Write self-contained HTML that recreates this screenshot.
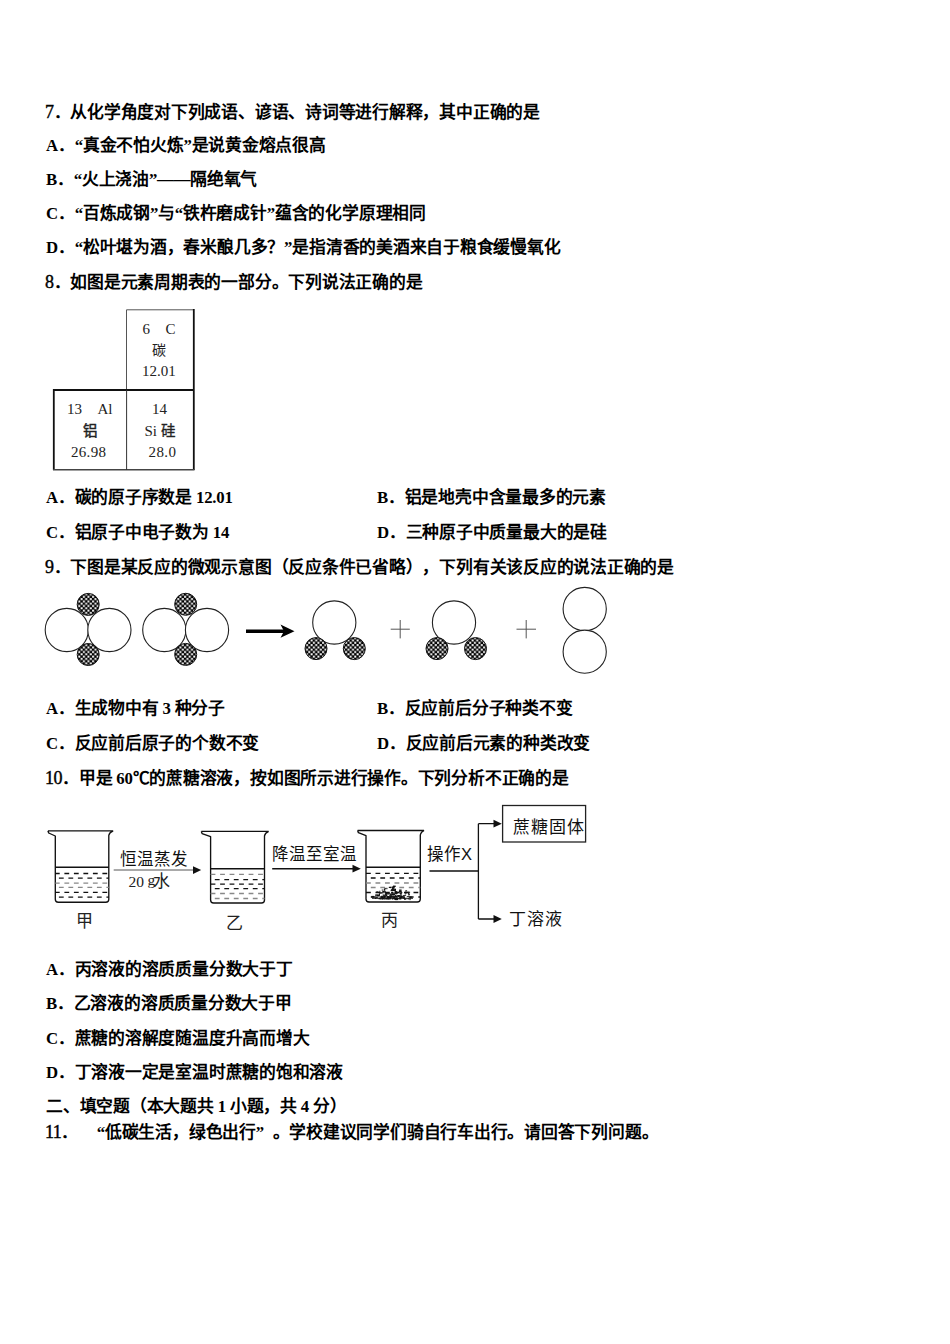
<!DOCTYPE html>
<html lang="zh-CN">
<head>
<meta charset="utf-8">
<style>
html,body{margin:0;padding:0;background:#fff;}
body{width:950px;height:1344px;position:relative;overflow:hidden;}
.l{position:absolute;white-space:nowrap;font-family:"Liberation Serif",serif;font-size:16.77px;line-height:20px;font-weight:bold;color:#000;letter-spacing:-0.23px;text-spacing-trim:space-all;}
.n{font-weight:normal;font-size:18px;margin-left:-1px;letter-spacing:-0.5px;-webkit-text-stroke:0.4px #000;}
.r{font-weight:normal;}
.q1{display:inline-block;width:16.77px;text-align:right;}
.q2{display:inline-block;width:16.77px;text-align:left;}
svg{position:absolute;left:0;top:0;}
</style>
</head>
<body>

<svg width="950" height="1344" viewBox="0 0 950 1344">
<defs>
<pattern id="ck" x="0" y="0" width="4.6" height="4.6" patternUnits="userSpaceOnUse">
<rect x="0" y="0" width="4.6" height="4.6" fill="#000"/>
<rect x="2.4" y="0.1" width="2.0" height="2.0" fill="#fff"/>
<rect x="0.1" y="2.4" width="2.0" height="2.0" fill="#fff"/>
</pattern>
</defs>
<!-- periodic table -->
<g fill="none">
<path d="M126.5 389.5 V309.8 H193.8" stroke="#555" stroke-width="1"/>
<path d="M193.8 309 V470" stroke="#111" stroke-width="1.8"/>
<path d="M53.8 470 V390 H193.8" stroke="#111" stroke-width="1.8"/>
<path d="M53 469.8 H194.5" stroke="#444" stroke-width="1.4"/>
<path d="M126.6 390 V470" stroke="#333" stroke-width="1"/>
</g>
<g font-family="Liberation Serif, serif" font-size="15" fill="#222">
<text x="142.5" y="333.5">6</text><text x="165.5" y="333.5">C</text>
<text x="151.5" y="354.5" font-size="14">碳</text>
<text x="142" y="375.5">12.01</text>
<text x="67" y="413.8">13</text><text x="97.5" y="413.8">Al</text>
<text x="152" y="413.8">14</text>
<text x="82.5" y="436" font-size="14.5" stroke="#222" stroke-width="0.45">铝</text>
<text x="144.5" y="435.5">Si</text><text x="160.5" y="436" font-size="14.5" stroke="#222" stroke-width="0.3">硅</text>
<text x="71" y="456.8" letter-spacing="0.3">26.98</text>
<text x="148.5" y="456.8" letter-spacing="0.4">28.0</text>
</g>
<!-- reaction -->
<g fill="#fff" stroke="#222" stroke-width="1.1">
<circle cx="66.8" cy="630" r="21.6"/><circle cx="109.4" cy="630" r="21.6"/>
<circle cx="164.3" cy="630" r="21.6"/><circle cx="207" cy="630" r="21.6"/>
<circle cx="334.3" cy="622.5" r="21.6"/>
<circle cx="454" cy="622.5" r="21.6"/>
<circle cx="584.7" cy="609" r="21.6"/><circle cx="584.7" cy="651.7" r="21.6"/>
</g>
<g fill="url(#ck)" stroke="#111" stroke-width="1">
<circle cx="88.2" cy="604.4" r="11"/><circle cx="88.2" cy="654.5" r="11"/>
<circle cx="185.7" cy="604.3" r="11"/><circle cx="185.7" cy="654.4" r="11"/>
<circle cx="316" cy="648.6" r="11"/><circle cx="354.3" cy="648.6" r="11"/>
<circle cx="437" cy="648.6" r="11"/><circle cx="475.5" cy="648.6" r="11"/>
</g>
<path d="M246 631.2 H284" stroke="#000" stroke-width="3.4"/>
<path d="M294.5 631.2 L280.5 624.5 L284 631.2 L280.5 637.8 Z" fill="#000"/>
<g stroke="#555" stroke-width="1">
<path d="M390.7 629.2 H409.8 M400.2 620 V638.4"/>
<path d="M516.5 629.2 H536 M526.2 620 V638.4"/>
</g>
<!-- beakers -->
<path d="M47.9 830.8 H113.2 M47.9 830.8 L48.699999999999996 833.0 L55.3 836.0 V899.2 Q55.3 902.2 58.3 902.2 H105.8 Q108.8 902.2 108.8 899.2 V835.3 Q109.3 832.3 113.2 830.8" fill="none" stroke="#111" stroke-width="1.35" stroke-linejoin="round"/>
<path d="M55.3 867.3 H108.8" stroke="#111" stroke-width="1.5"/>
<path d="M55.3 873.5 H108.8" stroke="#111" stroke-width="1.3" stroke-dasharray="4.8 4.7" stroke-dashoffset="0.4"/>
<path d="M55.3 878.1 H108.8" stroke="#111" stroke-width="1.3" stroke-dasharray="4.8 4.7" stroke-dashoffset="-3.6"/>
<path d="M55.3 883.2 H108.8" stroke="#888" stroke-width="1.3" stroke-dasharray="4.8 4.7" stroke-dashoffset="0.4"/>
<path d="M55.3 887.4 H108.8" stroke="#888" stroke-width="1.3" stroke-dasharray="4.8 4.7" stroke-dashoffset="-3.6"/>
<path d="M55.3 892.4 H108.8" stroke="#111" stroke-width="1.3" stroke-dasharray="4.8 4.7" stroke-dashoffset="0.4"/>
<path d="M55.3 897.1 H108.8" stroke="#111" stroke-width="1.3" stroke-dasharray="4.8 4.7" stroke-dashoffset="-3.6"/>
<path d="M201.3 831.4 H268.7 M201.3 831.4 L202.10000000000002 833.6 L210.6 836.6 V900.0 Q210.6 903.0 213.6 903.0 H261.5 Q264.5 903.0 264.5 900.0 V835.9 Q265.0 832.9 268.7 831.4" fill="none" stroke="#111" stroke-width="1.35" stroke-linejoin="round"/>
<path d="M210.6 868.7 H264.5" stroke="#111" stroke-width="1.5"/>
<path d="M210.6 874.3 H264.5" stroke="#888" stroke-width="1.3" stroke-dasharray="4.8 4.7" stroke-dashoffset="0"/>
<path d="M210.6 879.6 H264.5" stroke="#111" stroke-width="1.3" stroke-dasharray="4.8 4.7" stroke-dashoffset="-4.2"/>
<path d="M210.6 884.2 H264.5" stroke="#111" stroke-width="1.3" stroke-dasharray="4.8 4.7" stroke-dashoffset="0"/>
<path d="M210.6 888.6 H264.5" stroke="#111" stroke-width="1.3" stroke-dasharray="4.8 4.7" stroke-dashoffset="-4.2"/>
<path d="M210.6 893.5 H264.5" stroke="#888" stroke-width="1.3" stroke-dasharray="4.8 4.7" stroke-dashoffset="0"/>
<path d="M210.6 898.5 H264.5" stroke="#888" stroke-width="1.3" stroke-dasharray="4.8 4.7" stroke-dashoffset="-4.2"/>
<path d="M357.6 830.5 H424.1 M357.6 830.5 L358.40000000000003 832.7 L366.0 835.7 V899.0 Q366.0 902.0 369.0 902.0 H417.3 Q420.3 902.0 420.3 899.0 V835.0 Q420.8 832.0 424.1 830.5" fill="none" stroke="#111" stroke-width="1.35" stroke-linejoin="round"/>
<path d="M366.0 867.2 H420.3" stroke="#111" stroke-width="1.5"/>
<path d="M366.0 873.3 H420.3" stroke="#111" stroke-width="1.3" stroke-dasharray="4.8 4.7" stroke-dashoffset="0"/>
<path d="M366.0 878.0 H420.3" stroke="#111" stroke-width="1.3" stroke-dasharray="4.8 4.7" stroke-dashoffset="-4.8"/>
<path d="M366.0 883.0 H420.3" stroke="#888" stroke-width="1.3" stroke-dasharray="4.8 4.7" stroke-dashoffset="0"/>
<path d="M366.0 887.5 H420.3" stroke="#888" stroke-width="1.3" stroke-dasharray="4.8 4.7" stroke-dashoffset="-4.8"/>
<path d="M366.0 892.5 H420.3" stroke="#111" stroke-width="1.3" stroke-dasharray="4.8 4.7" stroke-dashoffset="0"/>
<path d="M366.0 897.0 H420.3" stroke="#111" stroke-width="1.3" stroke-dasharray="4.8 4.7" stroke-dashoffset="-4.8"/>

<!-- crystals -->
<g fill="#111"><rect x="379.0" y="892.2" width="2.5" height="1.5"/><rect x="379.4" y="890.7" width="0.9" height="1.2"/><rect x="406.9" y="891.9" width="1.1" height="1.2"/><rect x="386.5" y="896.6" width="1.8" height="1.3"/><rect x="399.7" y="896.5" width="2.5" height="1.5"/><rect x="392.6" y="897.3" width="2.3" height="0.9"/><rect x="387.8" y="898.5" width="2.4" height="1.0"/><rect x="388.1" y="896.8" width="2.6" height="1.6"/><rect x="385.1" y="893.6" width="2.1" height="1.0"/><rect x="407.7" y="891.7" width="2.4" height="1.1"/><rect x="385.9" y="895.5" width="1.2" height="0.9"/><rect x="400.5" y="893.1" width="0.9" height="1.4"/><rect x="395.7" y="895.5" width="1.4" height="1.5"/><rect x="382.5" y="894.6" width="2.1" height="0.9"/><rect x="393.2" y="885.8" width="0.9" height="1.5"/><rect x="393.2" y="888.9" width="1.5" height="1.3"/><rect x="390.3" y="898.5" width="1.0" height="1.0"/><rect x="399.0" y="890.9" width="2.5" height="1.6"/><rect x="390.0" y="895.3" width="1.5" height="1.3"/><rect x="392.8" y="889.4" width="2.3" height="1.6"/><rect x="386.8" y="898.3" width="2.5" height="0.9"/><rect x="383.8" y="889.1" width="1.5" height="1.6"/><rect x="404.7" y="894.6" width="1.4" height="1.1"/><rect x="394.0" y="897.4" width="2.1" height="1.7"/><rect x="396.0" y="897.4" width="1.0" height="1.7"/><rect x="381.0" y="897.1" width="1.9" height="1.5"/><rect x="389.7" y="893.9" width="1.6" height="0.9"/><rect x="394.5" y="893.4" width="2.3" height="0.9"/><rect x="390.6" y="889.8" width="2.5" height="1.4"/><rect x="393.2" y="894.1" width="1.2" height="1.6"/><rect x="386.9" y="896.1" width="1.7" height="1.7"/><rect x="410.0" y="896.4" width="1.7" height="1.5"/><rect x="383.0" y="895.4" width="1.1" height="1.1"/><rect x="393.2" y="885.6" width="2.5" height="1.4"/><rect x="382.0" y="898.1" width="1.4" height="1.5"/><rect x="392.0" y="887.3" width="1.5" height="1.5"/><rect x="394.6" y="891.1" width="2.2" height="1.1"/><rect x="375.3" y="894.3" width="1.4" height="1.2"/><rect x="394.1" y="895.9" width="2.5" height="1.4"/><rect x="375.3" y="895.2" width="0.9" height="1.3"/><rect x="391.9" y="893.5" width="2.3" height="1.4"/><rect x="408.4" y="893.5" width="1.5" height="1.4"/><rect x="390.4" y="895.2" width="2.3" height="1.6"/><rect x="371.4" y="895.9" width="2.6" height="1.7"/><rect x="378.6" y="897.7" width="2.3" height="1.6"/><rect x="390.5" y="893.5" width="2.1" height="1.4"/><rect x="391.2" y="888.9" width="1.9" height="1.4"/><rect x="385.3" y="894.9" width="2.0" height="1.5"/><rect x="380.5" y="898.4" width="1.2" height="1.2"/><rect x="378.7" y="893.8" width="1.3" height="1.4"/><rect x="389.8" y="893.7" width="1.3" height="0.8"/><rect x="389.6" y="897.6" width="1.4" height="1.0"/><rect x="393.0" y="893.6" width="1.5" height="1.4"/><rect x="394.8" y="892.2" width="1.3" height="1.6"/><rect x="403.2" y="896.7" width="1.6" height="0.9"/><rect x="392.0" y="887.9" width="1.5" height="0.8"/><rect x="388.3" y="893.0" width="1.5" height="1.3"/><rect x="388.8" y="886.8" width="2.3" height="1.2"/><rect x="398.1" y="895.4" width="1.1" height="1.3"/><rect x="377.4" y="894.8" width="2.5" height="1.7"/><rect x="384.1" y="889.3" width="0.9" height="0.9"/><rect x="385.5" y="893.2" width="1.9" height="0.9"/><rect x="376.1" y="896.5" width="1.6" height="1.0"/><rect x="375.2" y="897.2" width="2.6" height="1.1"/><rect x="386.1" y="892.7" width="1.3" height="1.7"/><rect x="380.6" y="896.4" width="2.6" height="1.2"/><rect x="392.3" y="895.9" width="1.7" height="0.9"/><rect x="383.4" y="896.4" width="2.2" height="1.5"/><rect x="383.8" y="898.5" width="1.8" height="1.0"/><rect x="409.6" y="897.5" width="1.4" height="0.9"/><rect x="384.4" y="887.9" width="1.4" height="1.3"/><rect x="376.4" y="894.8" width="2.2" height="0.9"/><rect x="394.5" y="889.7" width="1.4" height="1.3"/><rect x="387.2" y="893.3" width="1.7" height="1.1"/><rect x="399.9" y="891.3" width="1.9" height="0.8"/><rect x="391.8" y="886.5" width="2.4" height="1.3"/><rect x="404.1" y="898.5" width="2.2" height="1.2"/><rect x="376.6" y="894.5" width="1.7" height="1.6"/><rect x="384.1" y="895.4" width="1.6" height="1.6"/><rect x="395.0" y="888.7" width="1.0" height="1.6"/><rect x="400.7" y="892.1" width="1.6" height="1.1"/><rect x="396.6" y="897.6" width="1.7" height="1.3"/><rect x="382.1" y="897.6" width="1.9" height="1.5"/><rect x="392.1" y="898.1" width="1.3" height="1.5"/><rect x="396.2" y="898.4" width="2.1" height="1.7"/><rect x="376.3" y="891.4" width="2.1" height="0.8"/><rect x="396.2" y="891.7" width="2.5" height="1.4"/><rect x="385.5" y="897.7" width="1.4" height="1.6"/><rect x="400.9" y="895.3" width="1.2" height="1.4"/><rect x="404.2" y="898.4" width="1.1" height="1.1"/><rect x="395.4" y="892.5" width="2.2" height="1.6"/><rect x="393.7" y="897.5" width="1.6" height="1.1"/><rect x="381.7" y="889.6" width="1.5" height="0.9"/><rect x="384.5" y="891.8" width="1.2" height="1.4"/><rect x="391.1" y="892.4" width="2.0" height="1.0"/><rect x="384.0" y="891.2" width="1.8" height="0.9"/><rect x="389.3" y="896.6" width="1.5" height="1.5"/><rect x="399.5" y="892.3" width="1.0" height="1.4"/><rect x="407.7" y="898.2" width="1.1" height="1.3"/><rect x="393.6" y="893.5" width="1.4" height="1.5"/><rect x="409.4" y="898.4" width="1.2" height="1.7"/><rect x="395.3" y="891.0" width="1.3" height="0.9"/><rect x="408.0" y="893.1" width="1.1" height="1.4"/><rect x="389.2" y="895.2" width="1.3" height="1.1"/><rect x="384.3" y="895.4" width="1.1" height="1.5"/><rect x="385.3" y="892.2" width="2.3" height="1.2"/><rect x="399.9" y="893.1" width="1.9" height="1.5"/><rect x="381.3" y="895.7" width="1.1" height="0.8"/><rect x="392.9" y="887.2" width="1.7" height="1.5"/><rect x="395.0" y="898.5" width="1.7" height="1.6"/><rect x="383.5" y="894.7" width="1.1" height="0.9"/><rect x="384.1" y="897.5" width="1.5" height="1.1"/><rect x="396.6" y="896.5" width="1.4" height="0.9"/><rect x="387.7" y="896.1" width="1.3" height="1.2"/><rect x="397.0" y="895.3" width="2.5" height="1.4"/><rect x="386.3" y="887.8" width="1.1" height="1.4"/><rect x="381.0" y="896.6" width="2.0" height="1.5"/><rect x="395.8" y="898.4" width="1.3" height="0.9"/><rect x="398.3" y="895.1" width="2.6" height="1.1"/><rect x="387.3" y="896.2" width="2.1" height="1.4"/><rect x="403.4" y="897.6" width="1.3" height="1.4"/><rect x="406.8" y="896.0" width="2.6" height="0.8"/><rect x="386.2" y="898.2" width="2.2" height="1.2"/><rect x="405.3" y="890.3" width="1.8" height="1.1"/><rect x="395.9" y="897.9" width="1.0" height="1.6"/><rect x="393.4" y="898.2" width="1.3" height="0.8"/><rect x="388.9" y="896.4" width="1.6" height="1.1"/><rect x="394.3" y="898.2" width="1.0" height="1.7"/><rect x="397.6" y="895.0" width="1.8" height="0.9"/><rect x="403.8" y="896.5" width="1.1" height="1.3"/><rect x="405.1" y="891.6" width="1.3" height="0.8"/><rect x="384.9" y="893.6" width="1.7" height="1.3"/><rect x="381.0" y="892.3" width="2.5" height="1.1"/><rect x="402.8" y="895.2" width="2.3" height="1.0"/><rect x="399.1" y="898.0" width="2.2" height="1.5"/><rect x="398.3" y="896.0" width="1.1" height="0.9"/><rect x="392.1" y="894.0" width="1.9" height="1.0"/><rect x="396.6" y="898.2" width="2.1" height="0.8"/><rect x="394.8" y="895.0" width="1.1" height="1.2"/><rect x="400.6" y="896.2" width="2.2" height="1.3"/><rect x="404.7" y="892.5" width="1.9" height="1.2"/><rect x="382.3" y="890.9" width="2.0" height="1.7"/><rect x="389.6" y="896.2" width="2.3" height="1.1"/><rect x="375.1" y="898.0" width="1.0" height="1.0"/><rect x="390.7" y="895.9" width="1.0" height="1.5"/><rect x="408.5" y="895.3" width="0.9" height="0.8"/><rect x="399.1" y="889.5" width="2.5" height="1.4"/><rect x="399.5" y="896.9" width="1.6" height="1.1"/><rect x="391.2" y="891.9" width="2.3" height="1.5"/><rect x="393.5" y="897.9" width="1.8" height="1.0"/><path d="M372 898.3 H413" stroke="#111" stroke-width="1.1"/></g>
<!-- arrows & lines -->
<path d="M113.7 870 H194" stroke="#555" stroke-width="1"/>
<path d="M201.2 870 L193 866.2 V874 Z" fill="#111"/>
<path d="M272.2 868.7 H353" stroke="#111" stroke-width="1.4"/>
<path d="M360.8 868.7 L352.5 864.8 V872.6 Z" fill="#111"/>
<path d="M429.5 871 H478.4 M478.4 823.7 V919 M478.4 823.7 H494 M478.4 919 H494" stroke="#111" stroke-width="1.3" fill="none"/>
<path d="M501.8 823.7 L493.5 819.8 V827.6 Z M501.8 919 L493.5 915.1 V922.9 Z" fill="#111"/>
<rect x="502.6" y="805.5" width="83" height="36.5" fill="none" stroke="#222" stroke-width="1.3"/>
<g font-family="Liberation Sans, sans-serif" font-size="16.5" fill="#111">
<text x="119.5" y="864.5" letter-spacing="0">恒温蒸发</text>
<text x="271.5" y="860">降温至室温</text>
<text x="427" y="860">操作X</text>
<text x="513" y="832.5" font-size="17" letter-spacing="0.9">蔗糖固体</text>
<text x="508.5" y="924.5" font-size="17" letter-spacing="1.3">丁溶液</text>
</g>
<g style="font-family:'Liberation Serif',serif" font-size="15.5" fill="#222">
<text x="128.5" y="887">20</text><text x="147.5" y="884.5">g</text>
</g>
<g style="font-family:'Liberation Sans',sans-serif" font-size="15" fill="#222">
<text x="153" y="886.5" font-size="17">水</text>
<text x="76.2" y="927" font-size="17">甲</text>
<text x="226.2" y="929" font-size="17">乙</text>
<text x="380.5" y="926" font-size="17">丙</text>
</g>
</svg>
<div class="l" style="left:46px;top:102px"><span class="n">7</span>．从化学角度对下列成语、谚语、诗词等进行解释，其中正确的是</div>
<div class="l" style="left:46px;top:136px">A．“真金不怕火炼”是说黄金熔点很高</div>
<div class="l" style="left:46px;top:170px">B．“火上浇油”——隔绝氧气</div>
<div class="l" style="left:46px;top:204px">C．“百炼成钢”与“铁杵磨成针”蕴含的化学原理相同</div>
<div class="l" style="left:46px;top:238px">D．“松叶堪为酒，春米酿几多？”是指清香的美酒来自于粮食缓慢氧化</div>
<div class="l" style="left:46px;top:272px"><span class="n">8</span>．如图是元素周期表的一部分。下列说法正确的是</div>

<div class="l" style="left:46px;top:488px">A．碳的原子序数是 12.01</div>
<div class="l" style="left:377px;top:488px">B．铝是地壳中含量最多的元素</div>
<div class="l" style="left:46px;top:523px">C．铝原子中电子数为 14</div>
<div class="l" style="left:377px;top:523px">D．三种原子中质量最大的是硅</div>
<div class="l" style="left:46px;top:557px"><span class="n">9</span>．下图是某反应的微观示意图（反应条件已省略），下列有关该反应的说法正确的是</div>

<div class="l" style="left:46px;top:699px">A．生成物中有 3 种分子</div>
<div class="l" style="left:377px;top:699px">B．反应前后分子种类不变</div>
<div class="l" style="left:46px;top:734px">C．反应前后原子的个数不变</div>
<div class="l" style="left:377px;top:734px">D．反应前后元素的种类改变</div>
<div class="l" style="left:46px;top:768px"><span class="n">10</span>．甲是 60℃的蔗糖溶液，按如图所示进行操作。下列分析不正确的是</div>

<div class="l" style="left:46px;top:960px">A．丙溶液的溶质质量分数大于丁</div>
<div class="l" style="left:46px;top:994px">B．乙溶液的溶质质量分数大于甲</div>
<div class="l" style="left:46px;top:1029px">C．蔗糖的溶解度随温度升高而增大</div>
<div class="l" style="left:46px;top:1063px">D．丁溶液一定是室温时蔗糖的饱和溶液</div>
<div class="l" style="left:46px;top:1097px">二、填空题（本大题共 1 小题，共 4 分）</div>
<div class="l" style="left:46px;top:1122px"><span class="n">11</span>．<span style="display:inline-block;width:10px"></span><span class="q1">“</span>低碳生活，绿色出行<span class="q2">”</span>。学校建议同学们骑自行车出行。请回答下列问题。</div>
</body>
</html>
